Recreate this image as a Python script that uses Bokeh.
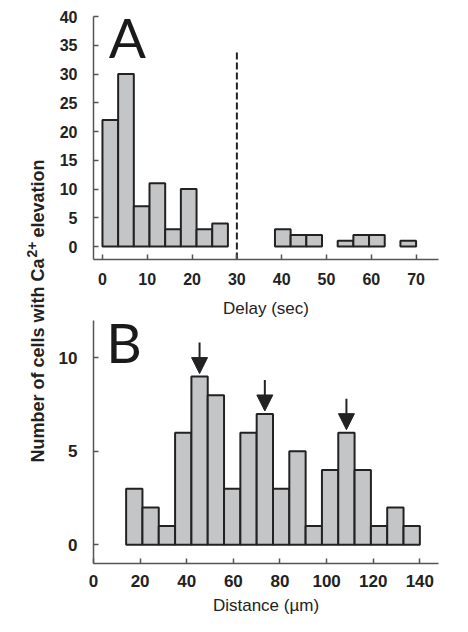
import math
from bokeh.plotting import figure
from bokeh.layouts import row, column
from bokeh.models import Range1d, FixedTicker, Label, Arrow, NormalHead, ColumnDataSource
from bokeh.embed import file_html
from bokeh.resources import INLINE

# ---------------- data ----------------
delay_bin_width = 3.5
delay_bin_starts = [0, 3.5, 7, 10.5, 14, 17.5, 21, 24.5, 38.5, 42, 45.5, 52.5, 56, 59.5, 66.5]
delay_counts = [22, 30, 7, 11, 3, 10, 3, 4, 3, 2, 2, 1, 2, 2, 1]
delay_cutoff = 30
delay_cutoff_top = 34
delay_ticks = [0, 10, 20, 30, 40, 50, 60, 70]
count_ticks_a = [0, 5, 10, 15, 20, 25, 30, 35, 40]

distance_bin_width = 7
distance_bin_starts = [14, 21, 28, 35, 42, 49, 56, 63, 70, 77, 84, 91, 98, 105, 112, 119, 126, 133]
distance_counts = [3, 2, 1, 6, 9, 8, 3, 6, 7, 3, 5, 1, 4, 6, 4, 1, 2, 1]
arrow_bins = [4, 8, 13]
distance_ticks = [0, 20, 40, 60, 80, 100, 120, 140]
count_ticks_b = [0, 5, 10]

# ---------------- style ----------------
BAR_FILL = "#c3c5c7"
DARK = "#222222"
AXIS = "#555555"
TICK_FONT = "Liberation Sans"


def style(p, tick_size, x_standoff, y_standoff):
    p.grid.visible = False
    p.outline_line_color = None
    p.background_fill_color = "white"
    p.border_fill_color = "white"
    for ax in [p.xaxis[0], p.yaxis[0]]:
        ax.axis_line_color = AXIS
        ax.axis_line_width = 1.5
        ax.major_tick_line_color = AXIS
        ax.major_tick_line_width = 1.5
        ax.major_tick_in = 5
        ax.major_tick_out = 0
        ax.minor_tick_line_color = None
        ax.major_label_text_font = TICK_FONT
        ax.major_label_text_font_style = "bold"
        ax.major_label_text_font_size = tick_size
        ax.major_label_text_color = DARK
    p.xaxis[0].major_label_standoff = x_standoff
    p.yaxis[0].major_label_standoff = y_standoff


# ---------------- panel A ----------------
fa = figure(width=420, height=292, output_backend="svg", toolbar_location=None,
            x_range=Range1d(-2, 75), y_range=Range1d(-2.26, 40),
            min_border_left=43, min_border_right=30, min_border_top=16, min_border_bottom=33)
style(fa, "16px", 13, 16)
fa.xaxis[0].ticker = FixedTicker(ticks=delay_ticks)
fa.yaxis[0].ticker = FixedTicker(ticks=count_ticks_a)

src_a = ColumnDataSource(dict(
    left=delay_bin_starts,
    right=[s + delay_bin_width for s in delay_bin_starts],
    top=delay_counts,
))
fa.quad(left="left", right="right", top="top", bottom=0, source=src_a,
        fill_color=BAR_FILL, line_color=DARK, line_width=2)
fa.segment(x0=[delay_cutoff], y0=[fa.y_range.start], x1=[delay_cutoff], y1=[delay_cutoff_top],
           line_color=DARK, line_width=2, line_dash="7 3")
fa.add_layout(Label(x=1.4, y=36.4, text="A", text_font="Lato", text_font_size="55px",
                    text_color="#1a1a1a", text_baseline="alphabetic"))

# ---------------- panel B ----------------
fb = figure(width=420, height=340, output_backend="svg", toolbar_location=None,
            x_range=Range1d(0, 148), y_range=Range1d(-1, 12),
            min_border_left=45, min_border_right=16, min_border_top=28, min_border_bottom=69)
style(fb, "17px", 11, 16)
fb.xaxis[0].ticker = FixedTicker(ticks=distance_ticks)
fb.yaxis[0].ticker = FixedTicker(ticks=count_ticks_b)
fb.xaxis[0].axis_label = "Distance (\u00b5m)"
fb.xaxis[0].axis_label_text_font = TICK_FONT
fb.xaxis[0].axis_label_text_font_style = "normal"
fb.xaxis[0].axis_label_text_font_size = "17px"
fb.xaxis[0].axis_label_text_color = DARK
fb.xaxis[0].axis_label_standoff = 6

# x-axis title of panel A, drawn in the gap above panel B
fb.title.text = "Delay (sec)"
fb.title.align = "center"
fb.title.offset = -8
fb.title.standoff = 6
fb.title.text_font = TICK_FONT
fb.title.text_font_style = "normal"
fb.title.text_font_size = "17px"
fb.title.text_color = DARK

src_b = ColumnDataSource(dict(
    left=distance_bin_starts,
    right=[s + distance_bin_width for s in distance_bin_starts],
    top=distance_counts,
))
fb.quad(left="left", right="right", top="top", bottom=0, source=src_b,
        fill_color=BAR_FILL, line_color=DARK, line_width=2)

arrow_x = [distance_bin_starts[i] + distance_bin_width / 2 for i in arrow_bins]
arrow_tip = [distance_counts[i] + 0.16 for i in arrow_bins]
arrow_tail = [t + 1.66 for t in arrow_tip]
src_arrow = ColumnDataSource(dict(x=arrow_x, y0=arrow_tail, y1=arrow_tip))
fb.add_layout(Arrow(end=NormalHead(size=16, fill_color=DARK, line_color=DARK, line_width=1),
                    x_start="x", y_start="y0", x_end="x", y_end="y1", source=src_arrow,
                    line_color=DARK, line_width=2))
fb.add_layout(Label(x=5.5, y=10.85, text="B", text_font="Lato", text_font_size="55px",
                    text_color="#1a1a1a", text_baseline="alphabetic"))

# ---------------- shared y label ----------------
fl = figure(width=48, height=632, output_backend="svg", toolbar_location=None,
            x_range=Range1d(0, 48), y_range=Range1d(632, 0),
            x_axis_type=None, y_axis_type=None,
            min_border=0, min_border_left=0, min_border_right=0,
            min_border_top=0, min_border_bottom=0)
fl.grid.visible = False
fl.outline_line_color = None
lab_kw = dict(angle=math.pi / 2, text_font=TICK_FONT, text_font_style="bold",
              text_color=DARK, text_baseline="alphabetic")
fl.add_layout(Label(x=37, y=258, text="Number of cells with Ca", text_align="right",
                    text_font_size="18px", **lab_kw))
fl.add_layout(Label(x=31.5, y=257, text="2+", text_align="left",
                    text_font_size="14px", **lab_kw))
fl.add_layout(Label(x=37, y=237, text="elevation", text_align="left",
                    text_font_size="18px", **lab_kw))

layout = row(fl, column(fa, fb))
open("out.html", "w").write(file_html(layout, INLINE))
